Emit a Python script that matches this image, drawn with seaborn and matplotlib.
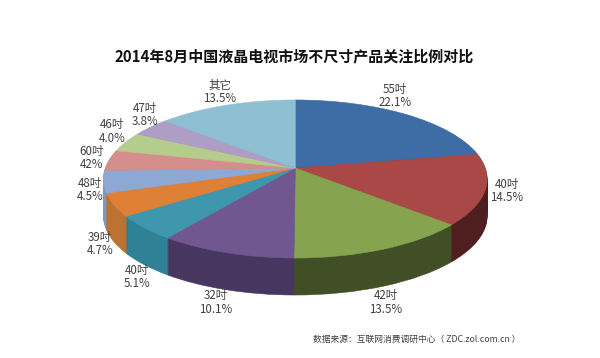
#!/usr/bin/env python3
# -*- coding: utf-8 -*-
import seaborn as sns
import matplotlib
matplotlib.use('Agg')
import matplotlib.pyplot as plt
import matplotlib.transforms as mtrans
import numpy as np

sns.set_theme(style='white')
plt.rcParams['font.family'] = ['Noto Sans CJK SC', 'DejaVu Sans']

#::: data
title = '2014年8月中国液晶电视市场不尺寸产品关注比例对比'
source = '数据来源：互联网消费调研中心（ ZDC.zol.com.cn ）'
sizes = [22.1, 14.5, 13.5, 10.1, 5.1, 4.7, 4.5, 4.2, 4.0, 3.8, 13.5]
names = ['55吋', '40吋', '42吋', '32吋', '40吋', '39吋', '48吋', '60吋', '46吋', '47吋', '其它']
shown = ['22.1%', '14.5%', '13.5%', '10.1%', '5.1%', '4.7%', '4.5%', '42%', '4.0%', '3.8%', '13.5%']
top_colors = ['#3E6DA5', '#A94846', '#86A34F', '#705790', '#3F97AE', '#DE8136',
              '#8EA8D5', '#D68E8C', '#B5CC8D', '#AE9DC4', '#8FBFD2']
rim_colors = ['#27466C', '#4E1F1E', '#414F26', '#47365F', '#2F8195', '#BC7230',
              '#7F97C4', '#A06A68', '#87996A', '#837593', '#6B8F9E']

# label centres in image pixels
label_x = [395, 507, 386, 216, 137, 100, 90, 92, 112, 145, 220]
label_y = [96, 191, 302.5, 302.5, 277, 244, 190, 158, 131.5, 115, 91.5]


###############################################################################
#::: perspective of the pie plane, in image pixels
###############################################################################
class Persp(mtrans.Transform):
    input_dims = output_dims = 2
    is_separable = False

    def __init__(self, drop=0.0):
        super().__init__()
        self.drop = drop

    def transform_non_affine(self, xy):
        xy = np.asarray(xy, dtype=float)
        w = 1 + 0.139 * xy[:, 1]
        return np.column_stack([295.3 + 190 * xy[:, 0] / w,
                                168 - 77.5 * xy[:, 1] / w + self.drop])


def draw_layer(ax, colors, drop):
    wedges = ax.pie(sizes, colors=colors, startangle=90, counterclock=False,
                    wedgeprops={'transform': Persp(drop) + ax.transData, 'linewidth': 0.4})[0]
    for w in wedges:
        w.set_edgecolor(w.get_facecolor())


fig = plt.figure(figsize=(6, 3.58), dpi=100, facecolor='white')
ax = fig.add_axes([0, 0, 1, 1])

# side of the pie: same pie stacked from the bottom up
for drop in np.arange(37, 0, -1):
    draw_layer(ax, rim_colors, drop)
draw_layer(ax, top_colors, 0)

ax.set_aspect('auto')
ax.set_xlim(0, 600)
ax.set_ylim(358, 0)
ax.axis('off')

ax.text(294.5, 56, title, ha='center', va='center', fontsize=10.8, fontweight='bold', color='#111111')
for n, s, x, y in zip(names, shown, label_x, label_y):
    ax.text(x, y, n + '\n' + s, ha='center', va='center', fontsize=8.3, color='#404040', linespacing=1.05)
ax.text(416.5, 339, source, ha='center', va='center', fontsize=6.3, color='#404040')

plt.savefig('out.png', dpi=100)
